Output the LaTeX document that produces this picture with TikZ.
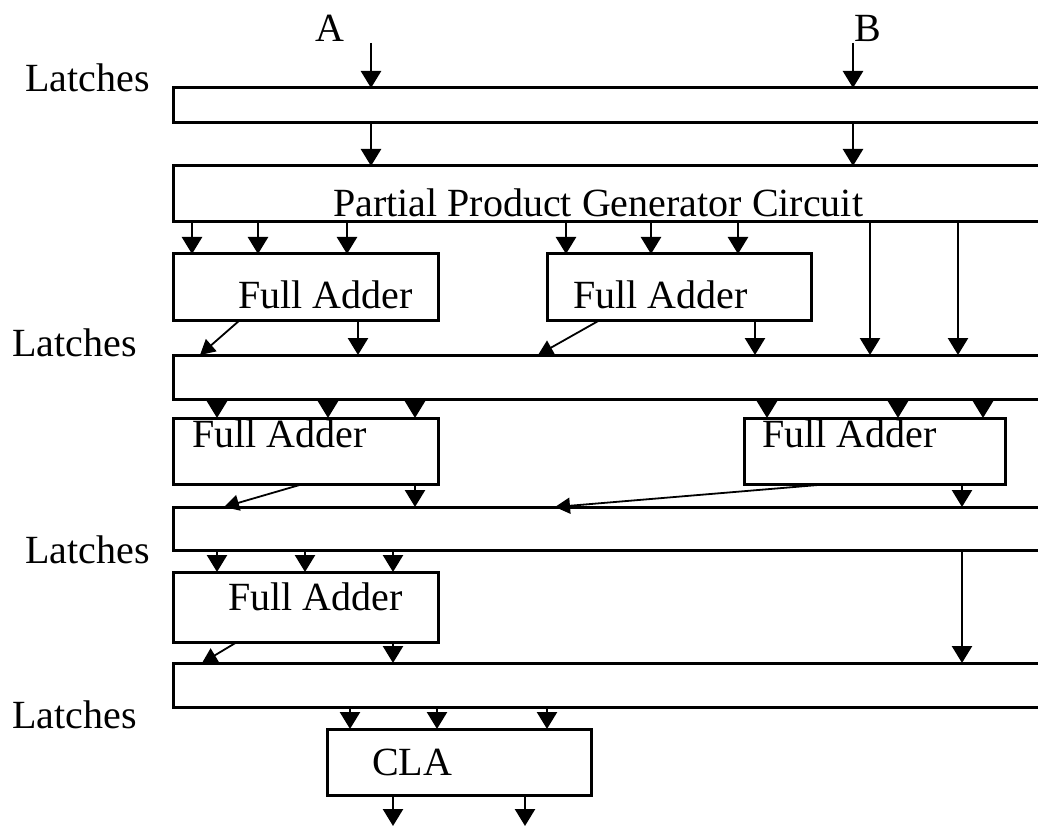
\documentclass[tikz,border=0pt]{standalone}
\usepackage{fontspec}
\setmainfont{Liberation Serif}
\usetikzlibrary{arrows.meta}
\begin{document}
\begin{tikzpicture}[x=1pt,y=-1pt,
  box/.style={draw, line width=3pt, rectangle, inner sep=0pt, outer sep=0pt, anchor=north west},
  lbl/.style={font=\fontsize{40}{40}\selectfont, inner sep=0pt, anchor=base west},
  arr/.style={line width=2.5pt, -{Triangle[width=20pt,length=17pt]}},
  diag/.style={line width=1.8pt, -{Triangle[width=16pt,length=15pt]}}]
\useasboundingbox[fill=white] (0,0) rectangle (1038,826);
\clip (0,0) rectangle (1038,826);
% latch bars and generator (open to the right)
\node[box, minimum width=900, minimum height=35] (l1) at (173,88) {};
\node[box, minimum width=900, minimum height=56] (ppg) at (173,166) {};
\node[box, minimum width=900, minimum height=44] (l2) at (173,355) {};
\node[box, minimum width=900, minimum height=43] (l3) at (173,507) {};
\node[box, minimum width=900, minimum height=44] (l4) at (173,663) {};
% blocks
\node[box, minimum width=265, minimum height=66] (fa1) at (173,254) {};
\node[box, minimum width=264, minimum height=66] (fa2) at (547,254) {};
\node[box, minimum width=265, minimum height=66] (fa3) at (173,418) {};
\node[box, minimum width=261, minimum height=66] (fa4) at (744,418) {};
\node[box, minimum width=265, minimum height=70] (fa5) at (173,572) {};
\node[box, minimum width=264, minimum height=66] (cla) at (327,729) {};
% texts
\node[lbl, anchor=base] (ta) at (330,42) {A};
\node[lbl, anchor=base] (tb) at (868,42) {B};
\node[lbl] (lt1) at (25,92) {Latches};
\node[lbl] (lt2) at (12,356) {Latches};
\node[lbl] (lt3) at (25,563) {Latches};
\node[lbl] (lt4) at (12,728) {Latches};
\node[lbl] (tppg) at (333,217) {Partial Product Generator Circuit};
\node[lbl] (tfa1) at (238,308) {Full Adder};
\node[lbl] (tfa2) at (573,308) {Full Adder};
\node[lbl] (tfa3) at (192,447) {Full Adder};
\node[lbl] (tfa4) at (762,447) {Full Adder};
\node[lbl] (tfa5) at (228,610) {Full Adder};
\node[lbl] (tcla) at (372,775) {CLA};
% inputs
\coordinate (ain) at (371,43);
\coordinate (bin) at (853,43);
\draw[arr] (ain) -- (ain |- l1.north);
\draw[arr] (bin) -- (bin |- l1.north);
\foreach \x in {371,853} \draw[arr] (\x,0 |- l1.south) -- (\x,0 |- ppg.north);
% generator outputs
\foreach \x in {192,258,347} \draw[arr] (\x,0 |- ppg.south) -- (\x,0 |- fa1.north);
\foreach \x in {566,651,738} \draw[arr] (\x,0 |- ppg.south) -- (\x,0 |- fa2.north);
\foreach \x in {870,958} \draw[arr] (\x,0 |- ppg.south) -- (\x,0 |- l2.north);
% stage 1 outputs
\draw[arr] (358,0 |- fa1.south) -- (358,0 |- l2.north);
\draw[diag] (240,0 |- fa1.south) -- (200,0 |- l2.north);
\draw[arr] (755,0 |- fa2.south) -- (755,0 |- l2.north);
\draw[diag] (600,0 |- fa2.south) -- (538,0 |- l2.north);
% stage 2
\foreach \x in {217,328,415} \draw[arr] (\x,0 |- l2.south) -- (\x,0 |- fa3.north);
\foreach \x in {767,898,983} \draw[arr] (\x,0 |- l2.south) -- (\x,0 |- fa4.north);
\draw[arr] (415,0 |- fa3.south) -- (415,0 |- l3.north);
\draw[diag] (303,0 |- fa3.south) -- (224,0 |- l3.north);
\draw[arr] (962,0 |- fa4.south) -- (962,0 |- l3.north);
\draw[diag] (830,0 |- fa4.south) -- (555,0 |- l3.north);
% stage 3
\foreach \x in {217,305,393} \draw[arr] (\x,0 |- l3.south) -- (\x,0 |- fa5.north);
\draw[arr] (962,0 |- l3.south) -- (962,0 |- l4.north);
\draw[arr] (393,0 |- fa5.south) -- (393,0 |- l4.north);
\draw[diag] (237,0 |- fa5.south) -- (202,0 |- l4.north);
% CLA
\foreach \x in {350,437,547} \draw[arr] (\x,0 |- l4.south) -- (\x,0 |- cla.north);
\coordinate (o1) at (393,826);
\coordinate (o2) at (525,826);
\draw[arr] (o1 |- cla.south) -- (o1);
\draw[arr] (o2 |- cla.south) -- (o2);
\end{tikzpicture}
\end{document}
